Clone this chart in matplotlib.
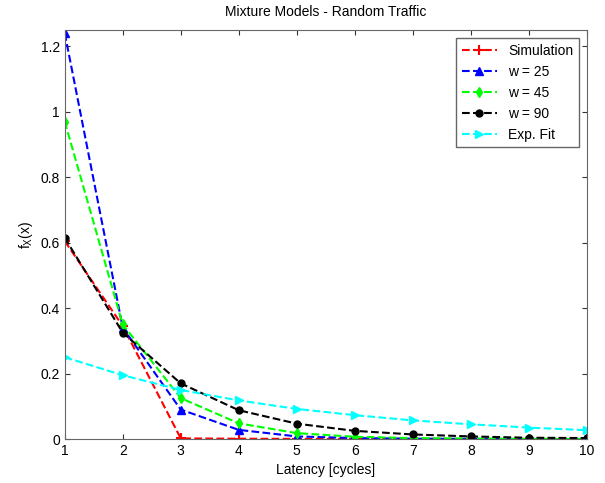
import matplotlib
matplotlib.use("Agg")
import matplotlib.pyplot as plt
import numpy as np

plt.rcParams['font.family'] = ['Liberation Sans', 'DejaVu Sans']

x = [1, 2, 3, 4, 5, 6, 7, 8, 9, 10]
sim = [0.605, 0.345, 0.002, 0.001, 0.0005, 0.0003, 0.0002, 0.0001, 0.0001, 0.0001]
w25 = [1.24, 0.34, 0.09, 0.028, 0.008, 0.003, 0.001, 0.0005, 0.0003, 0.0002]
w45 = [0.97, 0.35, 0.125, 0.048, 0.018, 0.007, 0.003, 0.0015, 0.0007, 0.0003]
w90 = [0.615, 0.325, 0.17, 0.088, 0.047, 0.025, 0.014, 0.008, 0.004, 0.003]
expfit = [0.25, 0.195, 0.15, 0.118, 0.092, 0.073, 0.057, 0.045, 0.035, 0.027]

fig = plt.figure(figsize=(6.05, 4.83), dpi=100)
ax = fig.add_axes([0.107, 0.091, 0.863, 0.847])

ax.plot(x, sim, 'r--', marker='+', ms=7, mew=1.5, lw=1.5, label='Simulation')
ax.plot(x, w25, 'b--', marker='^', ms=5.5, lw=1.5, label='w = 25')
ax.plot(x, w45, '--', color='#00ff00', marker='d', ms=5.5, lw=1.5, label='w = 45')
ax.plot(x, w90, 'k--', marker='o', ms=5, lw=1.5, label='w = 90')
ax.plot(x, expfit, '--', color='cyan', marker='>', ms=6, lw=1.5, label='Exp. Fit')

ax.set_xlim(1, 10)
ax.set_ylim(0, 1.25)
ax.set_xticks(x)
ax.set_yticks([0, 0.2, 0.4, 0.6, 0.8, 1, 1.2])
ax.set_yticklabels(['0', '0.2', '0.4', '0.6', '0.8', '1', '1.2'])
ax.tick_params(direction='in', labelsize=10, top=True, right=True, colors='#333333', labelcolor='black')
for s in ax.spines.values():
    s.set_color('#666666')
ax.set_title('Mixture Models - Random Traffic', fontsize=10, pad=10)
ax.set_xlabel('Latency [cycles]', fontsize=10)
ax.set_ylabel('$\\mathregular{f_X(x)}$', fontsize=10)
leg = ax.legend(loc='upper right', fontsize=10, fancybox=False, framealpha=1, edgecolor='#666666', handlelength=2.5, borderaxespad=0.6)
fig.savefig('out.png', dpi=100)
